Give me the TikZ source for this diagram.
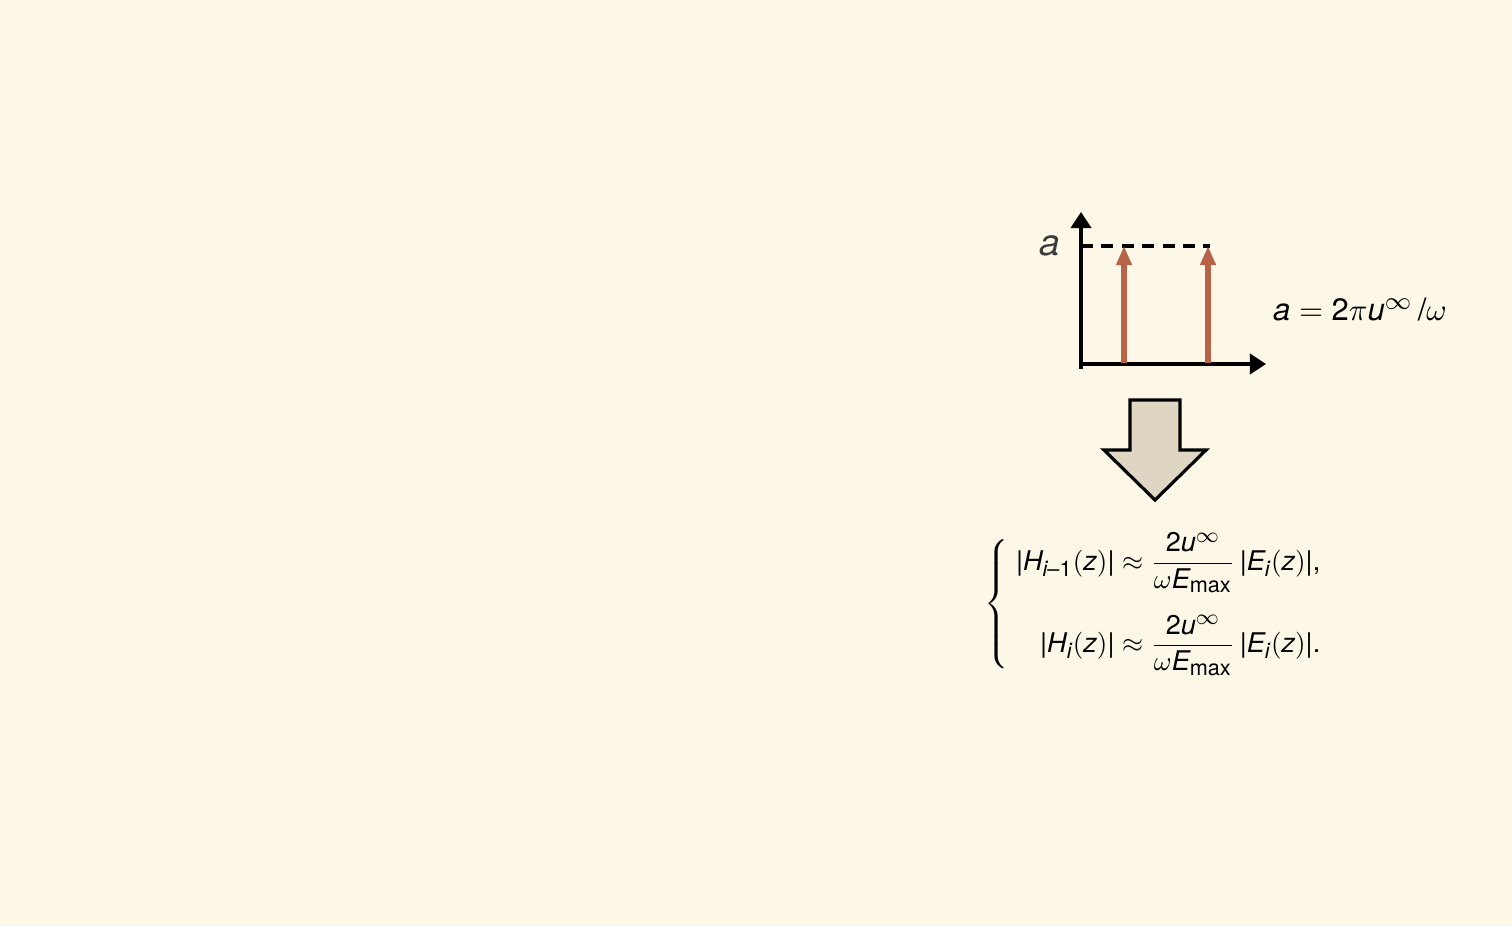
\documentclass[tikz,border=0pt]{standalone}
\usepackage{amsmath}
\usepackage{amssymb}
\usepackage{fontspec}
\setmainfont{TeX Gyre Heros}
\usepackage[italic]{mathastext}
\usetikzlibrary{arrows.meta,positioning}
\definecolor{paper}{RGB}{252,247,230}
\definecolor{spike}{RGB}{184,98,72}
\definecolor{blockfill}{RGB}{222,213,195}
\definecolor{labelgray}{RGB}{60,60,60}
\tikzset{
axis/.style={line width=0.9pt, -{Triangle[length=4.6pt,width=5.8pt]}},
level/.style={line width=0.9pt, dash pattern=on 3.4pt off 2.4pt},
spikearrow/.style={spike, line width=1.7pt, -{Triangle[length=5.4pt,width=4.2pt]}},
blockarrow/.style={draw, line width=0.9pt, fill=blockfill, line join=miter},
}

\begin{document}
\begin{tikzpicture}[x=0.01cm, y=-0.01cm]
    \fill[paper] (0,0) rectangle (1512,926);
    \useasboundingbox (0,0) rectangle (1512,926);
    % axes
    \coordinate (o) at (1081,364);
    \coordinate (ytop) at (1081,212);
    \coordinate (xend) at (1266,364);
    \draw[axis] ([yshift=-0.05cm]o) -- (ytop);
    \draw[axis] (o) -- (xend);
    \coordinate (lvl) at (1081,246);
    \coordinate (lvlend) at (1210,246);
    \draw[level] (lvl) -- (lvlend);
    \node[text=labelgray, scale=1.05] (alabel) at (1050,246) {$a$};
    % spikes
    \coordinate (s1) at (1124,363);
    \coordinate (s2) at (1208,363);
    \draw[spikearrow] (s1) -- (s1 |- lvl);
    \draw[spikearrow] (s2) -- (s2 |- lvl);
    \node[scale=0.88] (afml) at (1360,310) {$a = \text{2}\pi u^{\infty}\,/\omega$};
    % block arrow
    \draw[blockarrow] (1130,400) -- (1180,400) -- (1180,450) -- (1206,450)
        -- (1155,500) -- (1104,450) -- (1130,450) -- cycle;
    % system
    \node[scale=0.77] (sys) at (1154,604) {$\left\{\;\begin{aligned}
        |H_{i-\text{1}}(z)| &\approx \frac{\text{2}u^{\infty}}{\omega E_{\max}}\,|E_i(z)|,\\[4pt]
        |H_i(z)| &\approx \frac{\text{2}u^{\infty}}{\omega E_{\max}}\,|E_i(z)|.
    \end{aligned}\right.$};
\end{tikzpicture}
\end{document}
